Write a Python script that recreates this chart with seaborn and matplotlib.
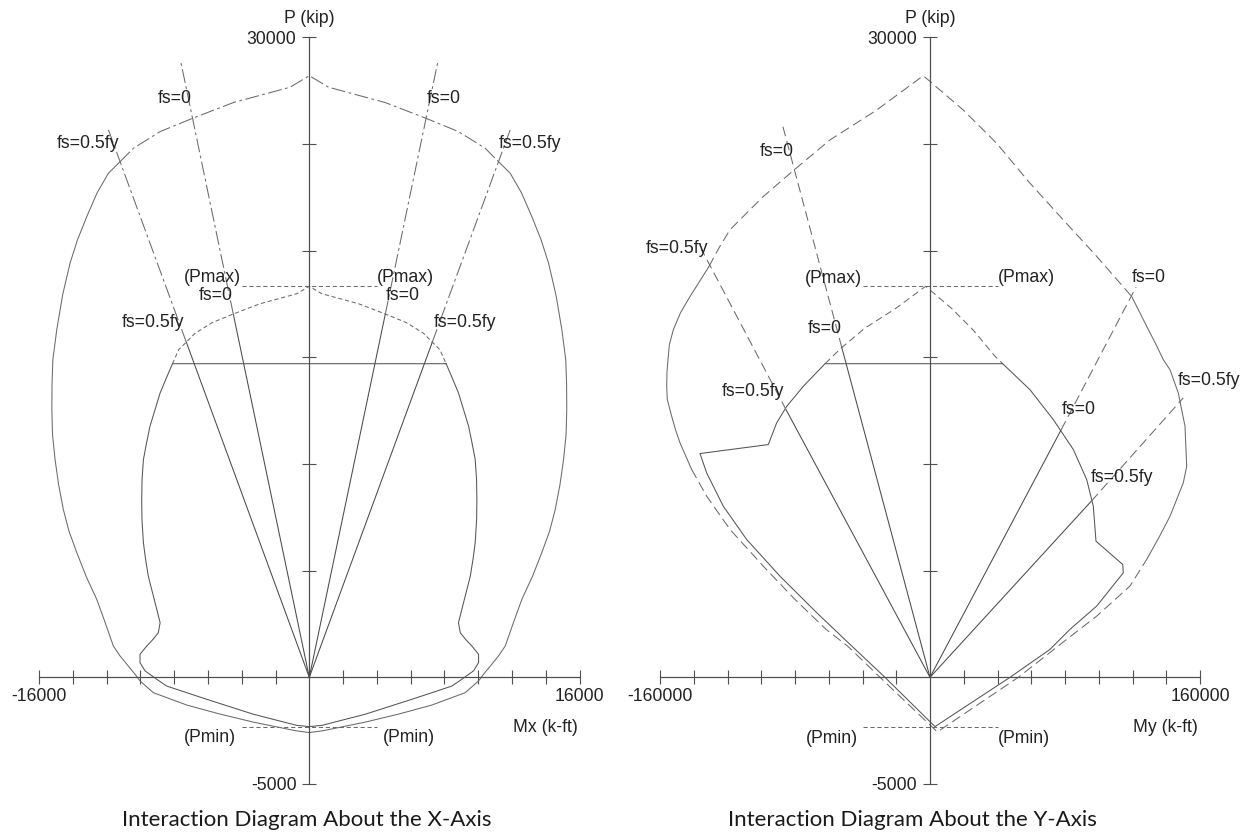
import numpy as np
import matplotlib
matplotlib.use("Agg")
import matplotlib.pyplot as plt
import seaborn as sns

# ---------------- Interaction diagram about the X-axis (Mx in k-ft, P in kip) ----------------
# nominal envelope, upper part (dash-dot)
mx_nom_cap = [-11200, -10410, -8830, -6920, -4500, -1140, 0, 1140, 4500, 6920, 8830, 10410, 11200]
px_nom_cap = [24170, 24800, 25580, 26200, 26940, 27660, 28200, 27660, 26940, 26200, 25580, 24800, 24170]
# nominal envelope, sides and tension end (solid)
mx_nom_body = [-11200, -11890, -12560, -13170, -13720, -14160, -14600, -14950, -15180, -15230,
               -15240, -15200, -15050, -14840, -14560, -14220, -13760, -13210, -12580, -12090,
               -11600, -11200, -10310, -10020, -9230, -7250, -5300, -3310, -830, 0,
               830, 3310, 5300, 7250, 9230, 10020, 10310, 11200, 11600, 12090,
               12580, 13210, 13760, 14220, 14560, 14840, 15050, 15200, 15240, 15230,
               15180, 14950, 14600, 14160, 13720, 13170, 12560, 11890, 11200]
px_nom_body = [24170, 23630, 22710, 21600, 20510, 19420, 17930, 16290, 14890, 13720,
               12550, 11380, 10210, 9040, 7870, 6840, 5840, 4730, 3650, 2580,
               1470, 1000, 140, -170, -720, -1300, -1720, -2100, -2500, -2590,
               -2500, -2100, -1720, -1300, -720, -170, 140, 1000, 1470, 2580,
               3650, 4730, 5840, 6840, 7870, 9040, 10210, 11380, 12550, 13720,
               14890, 16290, 17930, 19420, 20510, 21600, 22710, 23630, 24170]
# factored envelope above the Pmax cap (short dashes)
mx_fac_cap = [-8100, -7730, -7280, -6770, -5740, -4500, -2920, -740, 0,
              740, 2920, 4500, 5740, 6770, 7280, 7730, 8100]
px_fac_cap = [14700, 15360, 15710, 16120, 16630, 17030, 17510, 17980, 18330,
              17980, 17510, 17030, 16630, 16120, 15710, 15360, 14700]
# factored envelope, capped (solid, closed)
mx_fac_body = [8100, -8100, -8450, -8830, -9430, -9630, -9820, -9900, -9920, -9905,
               -9820, -9690, -9530, -9130, -8830, -8940, -9250, -9620, -10020, -10020,
               -9720, -9030, -8440, -6070, -3310, -750, 0, 750, 3310, 6070,
               8440, 9030, 9720, 10020, 10020, 9620, 9250, 8940, 8830, 9130,
               9530, 9690, 9820, 9905, 9920, 9900, 9820, 9630, 9430, 8830, 8450, 8100]
px_fac_body = [14700, 14700, 14050, 13330, 11770, 11000, 10210, 9270, 8330, 7400,
               6310, 5530, 4740, 3500, 2560, 2090, 1780, 1470, 1080, 690,
               300, -90, -410, -1030, -1730, -2250, -2310, -2250, -1730, -1030,
               -410, -90, 300, 690, 1080, 1470, 1780, 2090, 2560, 3500,
               4740, 5530, 6310, 7400, 8330, 9270, 10210, 11000, 11770, 13330, 14050, 14700]
# radial strain lines: origin -> factored curve -> beyond nominal curve
mx_fs0_left = [0, -4500, -7610]
px_fs0_left = [0, 17030, 28860]
mx_fs0_right = [0, 4500, 7610]
px_fs0_right = [0, 17030, 28860]
mx_fs5_left = [0, -7280, -11890]
px_fs5_left = [0, 15710, 25660]
mx_fs5_right = [0, 7280, 11890]
px_fs5_right = [0, 15710, 25660]
mx_pmax = [-4000, 4000]
px_pmax = [18330, 18330]
mx_pmin = [-4000, 4000]
px_pmin = [-2350, -2350]

# ---------------- Interaction diagram about the Y-axis (My in k-ft, P in kip) ----------------
my_nom_cap = [-130970, -125040, -118520, -98790, -80420, -59260, -31590, -3970,
              19730, 39530, 59260, 79000, 98790, 119530]
py_nom_cap = [19260, 20130, 20980, 22540, 23790, 25190, 26590, 28200,
              26590, 25030, 23160, 21440, 19730, 17850]
my_nom_left = [-130970, -136300, -142230, -147850, -152120, -154450, -155260, -155850,
               -156030, -155670, -153070, -150820, -148150, -141220]
py_nom_left = [19260, 18590, 17850, 17090, 16290, 15590, 14890, 14330,
               13640, 13020, 12230, 11610, 10990, 9740]
my_nom_bottom = [-141220, -132330, -118520, -98790, -80000, -61630, -48590, -29630,
                 4350, 52330, 81010, 98790, 118520, 128420]
py_nom_bottom = [9740, 8490, 6930, 5210, 3650, 2250, 1450, 0,
                 -2560, 0, 1780, 2870, 4280, 5530]
my_nom_right = [128420, 135710, 142220, 150110, 152120, 151110, 147140, 142220, 138250,
                134000, 128420, 119530]
py_nom_right = [5530, 6560, 7550, 9120, 9890, 11770, 13330, 14420, 14890,
                15590, 16450, 17850]
my_fac_cap = [-62220, -52270, -38520, -20530, -2580, 12830, 25690, 38520, 43080]
py_fac_cap = [14700, 15460, 16370, 17280, 18330, 17290, 16270, 15050, 14700]
my_fac_body = [43080, -62220, -75080, -84920, -90850, -95820, -136300, -132330, -122490,
               -108630, -88890, -67140, -46400, -26670, 2960, 47410, 71110, 82960,
               98790, 114550, 114200, 98370, 96770, 92860, 84920, 73070, 59260, 43080]
py_fac_body = [14700, 14700, 13640, 12700, 11930, 10910, 10490, 9580, 8020,
               6460, 4740, 3030, 1470, 0, -2310, 0, 1310, 2250,
               3340, 4900, 5290, 6380, 8020, 9270, 10680, 12080, 13480, 14700]
my_fs0_left = [0, -52270, -87290]
py_fs0_left = [0, 15460, 25850]
my_fs5_left = [0, -85130, -135290]
py_fs5_left = [0, 12520, 20040]
my_fs0_right = [0, 77690, 122080]
py_fs0_right = [0, 11600, 18290]
my_fs5_right = [0, 95640, 150110]
py_fs5_right = [0, 8260, 13100]
my_pmax = [-40000, 40000]
py_pmax = [18330, 18330]
my_pmin = [-40000, 40000]
py_pmin = [-2350, -2350]

p_ticks = [-5000, 5000, 10000, 15000, 20000, 25000, 30000]
p_tick_labels = ["-5000", "", "", "", "", "", "30000"]
mx_ticks = [-16000, -14000, -12000, -10000, -8000, -6000, -4000, -2000,
            2000, 4000, 6000, 8000, 10000, 12000, 14000, 16000]
mx_tick_labels = ["-16000"] + [""] * 14 + ["16000"]
my_ticks = [-160000, -140000, -120000, -100000, -80000, -60000, -40000, -20000,
            20000, 40000, 60000, 80000, 100000, 120000, 140000, 160000]
my_tick_labels = ["-160000"] + [""] * 14 + ["160000"]

# ---------------- styling ----------------
sns.set_theme(style="white")
plt.rcParams["font.family"] = ["Liberation Sans", "DejaVu Sans"]
plt.rcParams["lines.scale_dashes"] = False
plt.rcParams["lines.dash_capstyle"] = "butt"
plt.rcParams["lines.solid_joinstyle"] = "round"

AXIS_COLOR = "#505050"
CURVE_COLOR = "#6a6a6a"
RAY_COLOR = "#4a4a4a"
TEXT_COLOR = "#222222"
LW = 0.75
SOLID = "-"
DASHDOT = (0, (10, 2.5, 2, 2.5))
LONGDASH = (0, (7, 3.5))
SHORTDASH = (0, (3, 2))
FS = 12.7


def trace(ax, xs, ys, ls=SOLID, color=CURVE_COLOR, lw=LW):
    sns.lineplot(x=np.asarray(xs, dtype=float), y=np.asarray(ys, dtype=float), ax=ax,
                 sort=False, estimator=None, color=color, linewidth=lw, linestyle=ls)


def radial(ax, xs, ys, ls):
    trace(ax, xs[:2], ys[:2], SOLID, color=RAY_COLOR)
    trace(ax, xs[1:], ys[1:], ls)


def frame(ax, ticks, tick_labels, lim):
    ax.set_xlim(-lim, lim)
    ax.set_ylim(-5000, 30000)
    ax.set_facecolor("none")
    ax.grid(False)
    ax.set_xlabel("")
    ax.set_ylabel("")
    for side in ("top", "right"):
        ax.spines[side].set_visible(False)
    for side in ("left", "bottom"):
        ax.spines[side].set_position(("data", 0))
        ax.spines[side].set_color(AXIS_COLOR)
        ax.spines[side].set_linewidth(0.9)
    ax.xaxis.set_ticks_position("bottom")
    ax.yaxis.set_ticks_position("left")
    ax.set_xticks(ticks, labels=tick_labels)
    ax.set_yticks(p_ticks, labels=p_tick_labels)
    ax.tick_params(axis="both", direction="inout", length=9.5, width=0.8,
                   color=AXIS_COLOR, labelsize=FS, labelcolor=TEXT_COLOR)
    ax.tick_params(axis="x", pad=3)
    ax.tick_params(axis="y", pad=4.5)


def label(ax, x, y, s):
    ax.text(x, y, s, ha="center", va="center", fontsize=FS, color=TEXT_COLOR)


fig = plt.figure(figsize=(12.45, 8.35), dpi=100)
ax_x = fig.add_axes([39 / 1245, 51 / 835, 540.6 / 1245, 746.7 / 835])
ax_y = fig.add_axes([660 / 1245, 51 / 835, 540 / 1245, 746.7 / 835])

# ----- X-axis diagram -----
trace(ax_x, mx_nom_cap, px_nom_cap, DASHDOT)
trace(ax_x, mx_nom_body, px_nom_body, SOLID)
trace(ax_x, mx_fac_cap, px_fac_cap, SHORTDASH)
trace(ax_x, mx_fac_body, px_fac_body, SOLID, color="#555555")
radial(ax_x, mx_fs0_left, px_fs0_left, DASHDOT)
radial(ax_x, mx_fs0_right, px_fs0_right, DASHDOT)
radial(ax_x, mx_fs5_left, px_fs5_left, DASHDOT)
radial(ax_x, mx_fs5_right, px_fs5_right, DASHDOT)
trace(ax_x, mx_pmax, px_pmax, SHORTDASH)
trace(ax_x, mx_pmin, px_pmin, SHORTDASH)
frame(ax_x, mx_ticks, mx_tick_labels, 16000)

for x, y, s in [(-7950, 27110, "fs=0"), (7950, 27110, "fs=0"),
                (-13080, 25030, "fs=0.5fy"), (13080, 25030, "fs=0.5fy"),
                (-5720, 18760, "(Pmax)"), (5720, 18760, "(Pmax)"),
                (-5540, 17900, "fs=0"), (5540, 17900, "fs=0"),
                (-9230, 16630, "fs=0.5fy"), (9230, 16630, "fs=0.5fy"),
                (-5880, -2830, "(Pmin)"), (5880, -2830, "(Pmin)"),
                (0, 30900, "P (kip)"), (13950, -2340, "Mx (k-ft)")]:
    label(ax_x, x, y, s)

# ----- Y-axis diagram -----
trace(ax_y, my_nom_cap, py_nom_cap, LONGDASH)
trace(ax_y, my_nom_left, py_nom_left, SOLID)
trace(ax_y, my_nom_bottom, py_nom_bottom, LONGDASH)
trace(ax_y, my_nom_right, py_nom_right, SOLID)
trace(ax_y, my_fac_cap, py_fac_cap, (0, (5, 3)))
trace(ax_y, my_fac_body, py_fac_body, SOLID, color="#555555")
radial(ax_y, my_fs0_left, py_fs0_left, LONGDASH)
radial(ax_y, my_fs5_left, py_fs5_left, LONGDASH)
radial(ax_y, my_fs0_right, py_fs0_right, LONGDASH)
radial(ax_y, my_fs5_right, py_fs5_right, LONGDASH)
trace(ax_y, my_pmax, py_pmax, SHORTDASH)
trace(ax_y, my_pmin, py_pmin, SHORTDASH)
frame(ax_y, my_ticks, my_tick_labels, 160000)

for x, y, s in [(-90850, 24640, "fs=0"), (-150100, 20120, "fs=0.5fy"),
                (-57300, 18710, "(Pmax)"), (-62640, 16340, "fs=0"),
                (-104700, 13400, "fs=0.5fy"), (57300, 18760, "(Pmax)"),
                (129800, 18760, "fs=0"), (165300, 13900, "fs=0.5fy"),
                (87900, 12550, "fs=0"), (113600, 9350, "fs=0.5fy"),
                (-58250, -2860, "(Pmin)"), (55900, -2860, "(Pmin)"),
                (0, 30900, "P (kip)"), (139300, -2340, "My (k-ft)")]:
    label(ax_y, x, y, s)

title_font = ["Lato", "DejaVu Sans"]
fig.text(307 / 1245, 15 / 835, "Interaction Diagram About the X-Axis", ha="center",
         va="center", fontsize=16, family=title_font, color="#1a1a1a")
fig.text(912 / 1245, 15 / 835, "Interaction Diagram About the Y-Axis", ha="center",
         va="center", fontsize=16, family=title_font, color="#1a1a1a")

fig.savefig("out.png", dpi=100)
